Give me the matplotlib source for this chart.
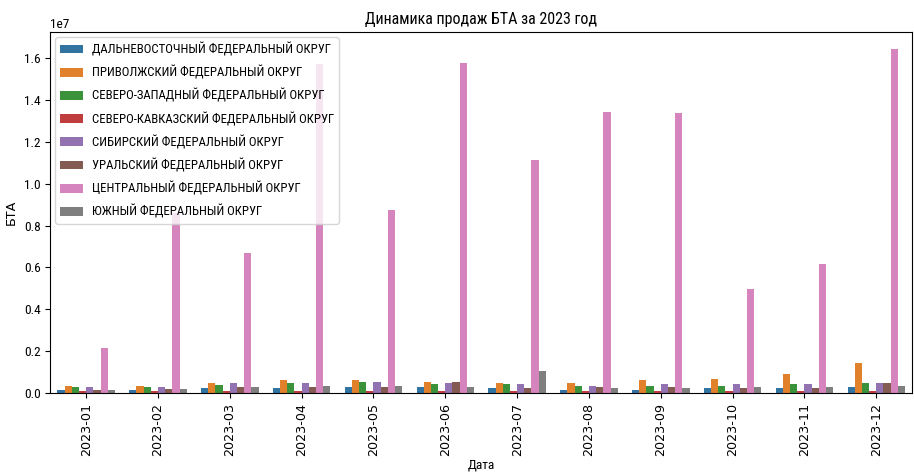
import numpy as np
import pandas as pd
import matplotlib
matplotlib.use('Agg')
import matplotlib.pyplot as plt
import seaborn as sns

plt.rcParams['font.family'] = ['Roboto Condensed', 'DejaVu Sans']
plt.rcParams['font.size'] = 9.6

months = ['2023-01', '2023-02', '2023-03', '2023-04', '2023-05', '2023-06',
          '2023-07', '2023-08', '2023-09', '2023-10', '2023-11', '2023-12']

regions = ['ДАЛЬНЕВОСТОЧНЫЙ ФЕДЕРАЛЬНЫЙ ОКРУГ',
           'ПРИВОЛЖСКИЙ ФЕДЕРАЛЬНЫЙ ОКРУГ',
           'СЕВЕРО-ЗАПАДНЫЙ ФЕДЕРАЛЬНЫЙ ОКРУГ',
           'СЕВЕРО-КАВКАЗСКИЙ ФЕДЕРАЛЬНЫЙ ОКРУГ',
           'СИБИРСКИЙ ФЕДЕРАЛЬНЫЙ ОКРУГ',
           'УРАЛЬСКИЙ ФЕДЕРАЛЬНЫЙ ОКРУГ',
           'ЦЕНТРАЛЬНЫЙ ФЕДЕРАЛЬНЫЙ ОКРУГ',
           'ЮЖНЫЙ ФЕДЕРАЛЬНЫЙ ОКРУГ']

# sales per month, units of 1e6
far_east = [0.16, 0.16, 0.22, 0.22, 0.29, 0.29, 0.22, 0.16, 0.16, 0.22, 0.22, 0.29]
volga = [0.35, 0.35, 0.48, 0.60, 0.60, 0.54, 0.48, 0.48, 0.60, 0.67, 0.92, 1.43]
north_west = [0.29, 0.27, 0.40, 0.48, 0.54, 0.41, 0.41, 0.35, 0.35, 0.35, 0.41, 0.48]
north_cauc = [0.08, 0.08, 0.10, 0.10, 0.10, 0.10, 0.10, 0.10, 0.10, 0.10, 0.10, 0.10]
siberia = [0.29, 0.29, 0.48, 0.48, 0.54, 0.48, 0.41, 0.35, 0.41, 0.41, 0.41, 0.48]
ural = [0.16, 0.21, 0.27, 0.27, 0.29, 0.54, 0.22, 0.29, 0.29, 0.22, 0.22, 0.48]
central = [2.14, 8.60, 6.70, 15.75, 8.76, 15.80, 11.14, 13.43, 13.38, 4.95, 6.19, 16.43]
south = [0.16, 0.21, 0.29, 0.35, 0.35, 0.29, 1.05, 0.22, 0.22, 0.29, 0.29, 0.35]

series = [far_east, volga, north_west, north_cauc, siberia, ural, central, south]

rows = []
for reg, vals in zip(regions, series):
    for m, v in zip(months, vals):
        rows.append({'Дата': m, 'Округ': reg, 'БТА': v * 1e6})
df = pd.DataFrame(rows)

fig, ax = plt.subplots(figsize=(9.14, 4.74), dpi=100)
fig.subplots_adjust(left=0.055, right=0.998, top=0.932, bottom=0.171)

sns.barplot(data=df, x='Дата', y='БТА', hue='Округ', order=months,
            hue_order=regions, palette='tab10', errorbar=None, ax=ax)

ax.set_title('Динамика продаж БТА за 2023 год')
# rotated texts keep the wider font
for lbl in ax.get_xticklabels():
    lbl.set_rotation(90)
    lbl.set_fontfamily('DejaVu Sans')
    lbl.set_fontsize(9.2)
ax.set_ylabel('БТА', fontfamily='DejaVu Sans', fontsize=9.2)
ax.set_xlabel('Дата', labelpad=2)
ax.legend(loc='upper left', fontsize=9.2, labelspacing=0.72,
          handlelength=1.75, handletextpad=0.7, borderaxespad=0.4)

plt.savefig('out.png', dpi=100)
